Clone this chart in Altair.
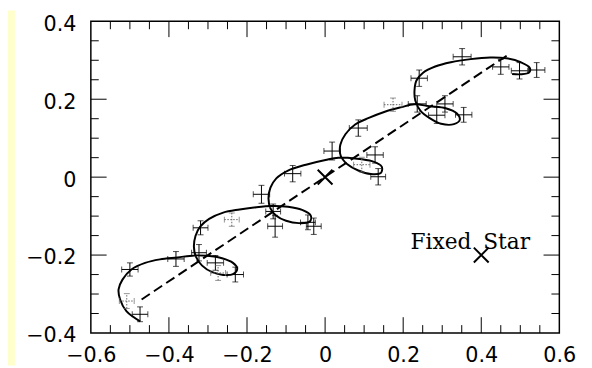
import altair as alt
import pandas as pd

# ---- data ----
curve_x = [-0.474, -0.509, -0.525, -0.529, -0.519, -0.496, -0.461, -0.423, -0.378, -0.335,
           -0.302, -0.264, -0.236, -0.225, -0.236, -0.261, -0.289, -0.315, -0.331, -0.336,
           -0.332, -0.320, -0.297, -0.261, -0.219, -0.176, -0.135, -0.095, -0.059, -0.037,
           -0.039, -0.067, -0.100, -0.125, -0.140, -0.145, -0.140, -0.125, -0.095, -0.049,
           0.001, 0.034, 0.077, 0.120, 0.145, 0.143, 0.117, 0.085, 0.057, 0.040,
           0.039, 0.052, 0.077, 0.112, 0.153, 0.193, 0.229, 0.267, 0.309, 0.337,
           0.345, 0.330, 0.297, 0.269, 0.244, 0.231, 0.229, 0.234, 0.251, 0.282,
           0.322, 0.373, 0.423, 0.464, 0.501, 0.524, 0.523, 0.501, 0.479]
curve_y = [-0.370, -0.344, -0.314, -0.288, -0.263, -0.237, -0.220, -0.211, -0.206, -0.201,
           -0.202, -0.208, -0.220, -0.235, -0.249, -0.251, -0.244, -0.227, -0.204, -0.179,
           -0.151, -0.127, -0.107, -0.091, -0.083, -0.077, -0.074, -0.076, -0.084, -0.098,
           -0.114, -0.118, -0.112, -0.099, -0.080, -0.055, -0.027, -0.003, 0.017, 0.032,
           0.044, 0.050, 0.048, 0.041, 0.027, 0.011, 0.008, 0.017, 0.033, 0.055,
           0.083, 0.110, 0.135, 0.152, 0.168, 0.179, 0.187, 0.182, 0.177, 0.164,
           0.147, 0.136, 0.137, 0.151, 0.171, 0.197, 0.222, 0.248, 0.268, 0.284,
           0.295, 0.303, 0.307, 0.305, 0.295, 0.281, 0.269, 0.264, 0.265]

obs_x = [-0.474, -0.508, -0.500, -0.382, -0.319, -0.323, -0.281, -0.274, -0.230, -0.239,
         -0.163, -0.133, -0.128, -0.083, -0.044, -0.029, 0.018, 0.085, 0.128, 0.094,
         0.136, 0.174, 0.236, 0.241, 0.351, 0.307, 0.286, 0.355, 0.450, 0.498, 0.542]
obs_y = [-0.352, -0.318, -0.237, -0.210, -0.130, -0.194, -0.220, -0.246, -0.250, -0.109,
         -0.044, -0.088, -0.126, 0.009, -0.116, -0.126, 0.067, 0.126, 0.057, 0.032,
         0.001, 0.186, 0.188, 0.254, 0.309, 0.188, 0.159, 0.160, 0.283, 0.273, 0.275]
obs_ex = [0.020, 0.019, 0.021, 0.021, 0.019, 0.019, 0.021, 0.019, 0.021, 0.019,
          0.021, 0.019, 0.019, 0.021, 0.019, 0.019, 0.021, 0.023, 0.021, 0.021,
          0.019, 0.023, 0.023, 0.021, 0.023, 0.021, 0.021, 0.021, 0.021, 0.021, 0.021]
obs_ey = [0.019, 0.019, 0.017, 0.019, 0.018, 0.021, 0.019, 0.019, 0.019, 0.017,
          0.023, 0.019, 0.028, 0.021, 0.019, 0.021, 0.023, 0.021, 0.021, 0.019,
          0.021, 0.017, 0.021, 0.021, 0.021, 0.021, 0.021, 0.019, 0.019, 0.021, 0.019]
obs_kind = ["s", "d", "s", "s", "s", "s", "s", "d", "s", "d",
            "s", "s", "s", "s", "s", "s", "s", "s", "s", "d",
            "s", "d", "s", "s", "s", "s", "s", "s", "s", "s", "s"]

motion_x = [-0.470, 0.473]
motion_y = [-0.314, 0.317]

star_x = [0.0, 0.4]
star_y = [0.0, -0.2]

label_text = ["Fixed", "Star"]
label_x = [0.375, 0.405]
label_y = [-0.184, -0.184]

x_ticks = [-0.6, -0.4, -0.2, 0.0, 0.2, 0.4, 0.6]
y_ticks = [-0.4, -0.2, 0.0, 0.2, 0.4]
x_major = [-0.4, -0.2, 0.0, 0.2, 0.4]
y_major = [-0.2, 0.0, 0.2]
x_minor = [v / 100 for v in range(-55, 60, 5) if v % 20 != 0]
y_minor = [v / 100 for v in range(-35, 40, 5) if v % 20 != 0]

W, H = 475, 316

curve = pd.DataFrame({"x": curve_x, "y": curve_y, "o": list(range(len(curve_x)))})
obs = pd.DataFrame({"x": obs_x, "y": obs_y, "ex": obs_ex, "ey": obs_ey, "kind": obs_kind})
obs["xlo"] = obs.x - obs.ex
obs["xhi"] = obs.x + obs.ex
obs["ylo"] = obs.y - obs.ey
obs["yhi"] = obs.y + obs.ey
motion = pd.DataFrame({"x": motion_x, "y": motion_y})
stars = pd.DataFrame({"x": star_x, "y": star_y})
labels = pd.DataFrame({"t": label_text, "x": label_x, "y": label_y,
                       "a": ["right", "left"]})

xs = alt.Scale(domain=[-0.6, 0.6], nice=False, zero=False)
ys = alt.Scale(domain=[-0.4, 0.4], nice=False, zero=False)
xax = alt.Axis(values=x_ticks, format=".1~f", title=None, labelPadding=12, labelFlush=False)
yax = alt.Axis(values=y_ticks, format=".1~f", title=None, labelPadding=15, labelOffset=3, labelFlush=False)

X = lambda f: alt.X(f, type="quantitative", scale=xs, axis=xax)
Y = lambda f: alt.Y(f, type="quantitative", scale=ys, axis=yax)

base = alt.Chart(obs)

strip = alt.Chart(pd.DataFrame({"k": [0]})).mark_rect(color="#FFFFCC").encode(
    x=alt.value(-84), x2=alt.value(-77), y=alt.value(-11), y2=alt.value(349))

dash_scale = alt.Scale(domain=["s", "d"], range=[[20, 0], [1.5, 1.5]])
col_scale = alt.Scale(domain=["s", "d"], range=["#000000", "#666666"])

hbar = base.mark_rule(strokeWidth=1).encode(
    x=X("xlo"), x2="xhi", y=Y("y"),
    strokeDash=alt.StrokeDash("kind:N", scale=dash_scale, legend=None),
    color=alt.Color("kind:N", scale=col_scale, legend=None))
vbar = base.mark_rule(strokeWidth=1).encode(
    x=X("x"), y=Y("ylo"), y2="yhi",
    strokeDash=alt.StrokeDash("kind:N", scale=dash_scale, legend=None),
    color=alt.Color("kind:N", scale=col_scale, legend=None))
cap_l = base.mark_tick(orient="vertical", size=6, thickness=1).encode(
    x=X("xlo"), y=Y("y"), color=alt.Color("kind:N", scale=col_scale, legend=None))
cap_r = base.mark_tick(orient="vertical", size=6, thickness=1).encode(
    x=X("xhi"), y=Y("y"), color=alt.Color("kind:N", scale=col_scale, legend=None))
cap_b = base.mark_tick(orient="horizontal", size=6, thickness=1).encode(
    x=X("x"), y=Y("ylo"), color=alt.Color("kind:N", scale=col_scale, legend=None))
cap_t = base.mark_tick(orient="horizontal", size=6, thickness=1).encode(
    x=X("x"), y=Y("yhi"), color=alt.Color("kind:N", scale=col_scale, legend=None))

path = alt.Chart(curve).mark_line(color="black", strokeWidth=2, interpolate="catmull-rom").encode(
    x=X("x"), y=Y("y"), order="o:Q")
mline = alt.Chart(motion).mark_line(color="black", strokeWidth=2, strokeDash=[10, 5]).encode(
    x=X("x"), y=Y("y"))
xmark = alt.Chart(stars).mark_point(shape="M-1,-1L1,1M-1,1L1,-1", size=225, filled=False,
                                    color="black", strokeWidth=2, opacity=1).encode(
    x=X("x"), y=Y("y"))
txt_l = alt.Chart(labels[labels.a == "right"]).mark_text(
    align="right", baseline="alphabetic", font="DejaVu Serif", fontSize=22, color="black").encode(
    x=X("x"), y=Y("y"), text="t")
txt_r = alt.Chart(labels[labels.a == "left"]).mark_text(
    align="left", baseline="alphabetic", font="DejaVu Serif", fontSize=22, color="black").encode(
    x=X("x"), y=Y("y"), text="t")


def ticks_x(vals, length):
    d = alt.Chart(pd.DataFrame({"v": vals}))
    bot = d.mark_rule(color="black", strokeWidth=1).encode(
        x=X("v"), y=alt.value(H), y2=alt.value(H - length))
    top = d.mark_rule(color="black", strokeWidth=1).encode(
        x=X("v"), y=alt.value(0), y2=alt.value(length))
    return [bot, top]


def ticks_y(vals, length):
    d = alt.Chart(pd.DataFrame({"v": vals}))
    lef = d.mark_rule(color="black", strokeWidth=1).encode(
        y=Y("v"), x=alt.value(0), x2=alt.value(length))
    rig = d.mark_rule(color="black", strokeWidth=1).encode(
        y=Y("v"), x=alt.value(W), x2=alt.value(W - length))
    return [lef, rig]


layers = ([strip] + ticks_x(x_major, 16) + ticks_x(x_minor, 8) + ticks_y(y_major, 16)
          + ticks_y(y_minor, 8)
          + [mline, path, hbar, vbar, cap_l, cap_r, cap_b, cap_t, xmark, txt_l, txt_r])

chart = alt.layer(*layers).properties(
    width=W, height=H,
    padding={"left": 84, "top": 11, "right": 25, "bottom": 33},
    autosize=alt.AutoSizeParams(type="none"),
    background="white",
).configure_view(
    stroke="black", strokeWidth=1.5
).configure_axis(
    labelFont="DejaVu Sans", labelFontSize=21, labelColor="black",
    domain=False, ticks=False, tickSize=0, grid=False,
)

chart.save("out.html", embed_options={"renderer": "svg", "actions": False})
